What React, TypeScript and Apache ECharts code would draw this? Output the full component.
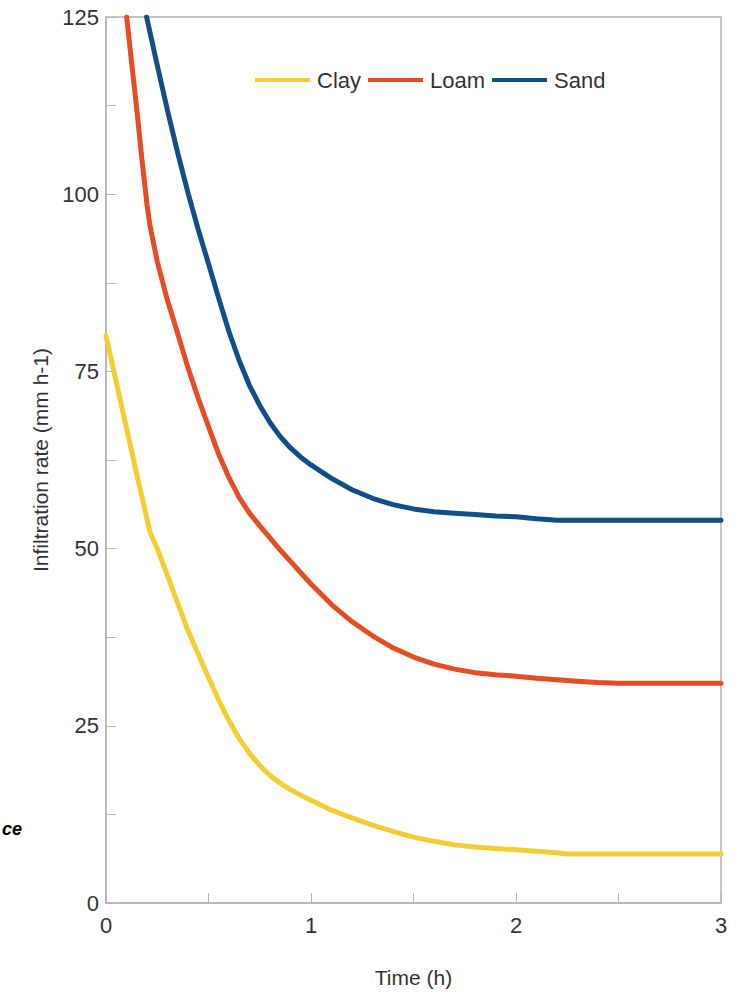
import React, { useEffect, useRef } from "react";
import * as echarts from "echarts";

const clayTime = [0, 0.05, 0.1, 0.15, 0.2, 0.215, 0.25, 0.3, 0.35, 0.4, 0.45, 0.5, 0.55, 0.6, 0.65, 0.7, 0.75, 0.8, 0.85, 0.9, 0.95, 1.0, 1.1, 1.2, 1.3, 1.4, 1.5, 1.6, 1.7, 1.8, 1.9, 2.0, 2.1, 2.2, 2.25, 3.0];
const clayRate = [80, 73.5, 67, 60.5, 54.2, 52.3, 50, 46.2, 42.3, 38.4, 35.1, 31.8, 28.6, 25.7, 23.2, 21.1, 19.4, 18, 16.9, 16, 15.2, 14.5, 13.1, 12, 11, 10.1, 9.3, 8.7, 8.2, 7.9, 7.7, 7.5, 7.3, 7.1, 6.9, 6.9];

const loamTime = [0.101, 0.125, 0.15, 0.175, 0.2, 0.215, 0.25, 0.3, 0.35, 0.4, 0.45, 0.5, 0.55, 0.6, 0.65, 0.7, 0.75, 0.8, 0.85, 0.9, 0.95, 1.0, 1.1, 1.2, 1.3, 1.4, 1.5, 1.6, 1.7, 1.8, 1.9, 2.0, 2.1, 2.2, 2.3, 2.4, 2.5, 3.0];
const loamRate = [125, 118.5, 112, 105, 98.5, 95.5, 90.5, 85, 80.3, 75.5, 71.2, 67.2, 63.3, 60, 57.2, 55, 53.2, 51.5, 49.8, 48.2, 46.6, 45, 42.1, 39.7, 37.7, 36, 34.7, 33.7, 33, 32.5, 32.2, 32, 31.7, 31.5, 31.3, 31.1, 31, 31];

const sandTime = [0.198, 0.25, 0.3, 0.35, 0.4, 0.45, 0.5, 0.55, 0.6, 0.65, 0.7, 0.75, 0.8, 0.85, 0.9, 0.95, 1.0, 1.1, 1.2, 1.3, 1.4, 1.5, 1.6, 1.7, 1.8, 1.9, 2.0, 2.1, 2.2, 3.0];
const sandRate = [125, 118.2, 111.8, 105.8, 100.2, 95, 90.2, 85.3, 80.6, 76.5, 73, 70.2, 67.8, 65.8, 64.2, 62.9, 61.8, 59.9, 58.3, 57.1, 56.2, 55.6, 55.2, 55, 54.8, 54.6, 54.5, 54.2, 54, 54];

const seriesNames = ["Clay", "Loam", "Sand"];
const seriesColors = ["#f2cd33", "#e64c25", "#114d86"];
const yTicks = [0, 25, 50, 75, 100, 125];
const xTicks = [0, 1, 2, 3];

const pairs = (t: number[], v: number[]) => t.map((x, i) => [x, v[i]]);

export default function App() {
  const ref = useRef<HTMLDivElement>(null);
  useEffect(() => {
    if (!ref.current) return;
    const chart = echarts.init(ref.current, undefined, { renderer: "svg" });
    const font = "Liberation Sans, Arial, sans-serif";
    const textColor = "#333333";
    const axisColor = "#b3b3b3";
    const datasets = [pairs(clayTime, clayRate), pairs(loamTime, loamRate), pairs(sandTime, sandRate)];
    chart.setOption({
      animation: false,
      backgroundColor: "#ffffff",
      textStyle: { fontFamily: font },
      grid: {
        left: 106, right: 22, top: 17, bottom: 90,
        show: true, borderColor: axisColor, borderWidth: 1.5, containLabel: false,
      },
      legend: {
        data: seriesNames,
        left: 250, top: 64,
        icon: "rect",
        itemWidth: 55, itemHeight: 4, itemGap: 7,
        textStyle: { fontSize: 22, color: textColor, fontFamily: font, padding: [0, 0, 0, 2] },
      },
      xAxis: {
        type: "value", min: xTicks[0], max: xTicks[xTicks.length - 1], interval: 1,
        name: "Time (h)", nameLocation: "middle", nameGap: 64,
        nameTextStyle: { fontSize: 21, color: textColor, fontFamily: font },
        axisLine: { show: true, lineStyle: { color: axisColor, width: 1.5 } },
        axisTick: { show: true, inside: true, length: 10, lineStyle: { color: axisColor } },
        minorTick: { show: true, splitNumber: 2, length: 10, lineStyle: { color: axisColor } },
        splitLine: { show: false },
        axisLabel: { fontSize: 22, color: textColor, margin: 11, fontFamily: font },
      },
      yAxis: {
        type: "value", min: yTicks[0], max: yTicks[yTicks.length - 1], interval: 25,
        name: "Infiltration rate (mm h-1)", nameLocation: "middle", nameGap: 54,
        nameTextStyle: { fontSize: 21, color: textColor, fontFamily: font },
        axisLine: { show: true, lineStyle: { color: axisColor, width: 1.5 } },
        axisTick: { show: true, inside: true, length: 10, lineStyle: { color: axisColor } },
        minorTick: { show: true, splitNumber: 2, length: 10, lineStyle: { color: axisColor } },
        splitLine: { show: false },
        axisLabel: { fontSize: 22, color: textColor, margin: 7, fontFamily: font },
      },
      series: seriesNames.map((name, i) => ({
        name, type: "line", data: datasets[i], symbol: "none",
        smooth: false, clip: true,
        lineStyle: { color: seriesColors[i], width: 5, join: "round", cap: "round" },
        itemStyle: { color: seriesColors[i] },
      })),
      graphic: [
        { type: "text", left: 2, top: 820, style: { text: "ce", font: "bold italic 18px Liberation Sans, Arial, sans-serif", fill: "#000000" } },
      ],
    });
    return () => chart.dispose();
  }, []);
  return <div ref={ref} style={{ position: "fixed", left: 0, top: 0, width: 743, height: 993 }} />;
}
